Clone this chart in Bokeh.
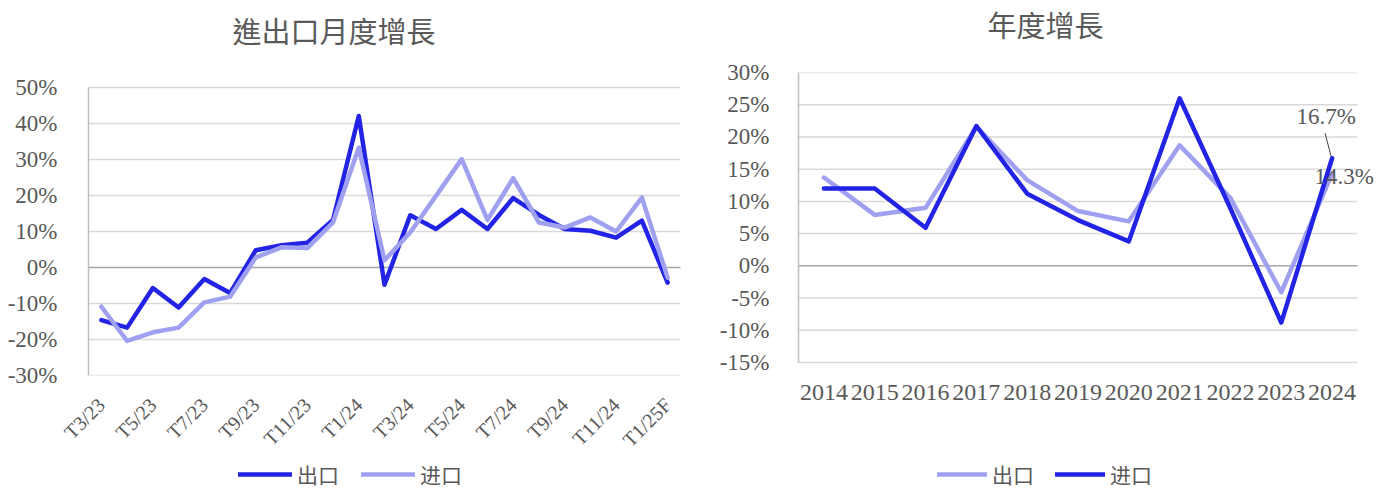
import math
from bokeh.plotting import figure
from bokeh.models import (Range1d, FixedTicker, PrintfTickFormatter, Legend, LegendItem,
                          Label, Title)
from bokeh.layouts import row, column
from bokeh.embed import file_html
from bokeh.resources import INLINE

# ---------------- data ----------------
months = ["T3/23", "T4/23", "T5/23", "T6/23", "T7/23", "T8/23", "T9/23", "T10/23",
          "T11/23", "T12/23", "T1/24", "T2/24", "T3/24", "T4/24", "T5/24", "T6/24",
          "T7/24", "T8/24", "T9/24", "T10/24", "T11/24", "T12/24", "T1/25F"]
monthly_export = [-14.6, -16.7, -5.7, -11.1, -3.2, -7.1, 4.8, 6.2, 6.9, 13.2, 42.1, -4.8,
                  14.5, 10.7, 16.0, 10.7, 19.3, 14.6, 10.7, 10.2, 8.3, 13.0, -4.2]
monthly_import = [-10.9, -20.4, -18.0, -16.7, -9.7, -8.1, 2.8, 5.6, 5.4, 12.5, 33.3, 2.0,
                  9.7, 19.9, 30.1, 13.2, 24.8, 12.5, 11.1, 13.9, 10.0, 19.4, -2.8]
monthly_ticks = [-30, -20, -10, 0, 10, 20, 30, 40, 50]

years = ["2014", "2015", "2016", "2017", "2018", "2019", "2020", "2021", "2022", "2023", "2024"]
annual_export = [13.7, 7.9, 9.0, 21.6, 13.3, 8.5, 6.9, 18.7, 10.5, -4.1, 14.3]
annual_import = [12.0, 12.0, 5.9, 21.7, 11.2, 7.1, 3.8, 26.0, 8.9, -8.8, 16.7]
annual_ticks = [-15, -10, -5, 0, 5, 10, 15, 20, 25, 30]

title_left = "進出口月度增長"
title_right = "年度增長"
lbl_export = "出口"
lbl_import = "进口"

DARK = "#2323E6"
LIGHT = "#A0A0F0"
TXT = "#595959"
GRID = "#D9D9D9"
ZERO = "#A6A6A6"
AXIS = "#BFBFBF"
SERIF = "Liberation Serif"
CJK_TC = "Noto Sans CJK TC"
CJK_SC = "Noto Sans CJK SC"

FRAME_TOP = 71
FRAME_H = 303
BOTTOM = 81
LEG_H = 34
LW = 4.5


def make(n, ticks, px_per_cat, y_lo, y_hi, frame_w, border_l, border_r):
    p = figure(frame_width=frame_w, frame_height=FRAME_H, min_border_left=border_l,
               min_border_right=border_r, min_border_top=FRAME_TOP, min_border_bottom=BOTTOM,
               x_range=Range1d(-0.5 - 2.0 / px_per_cat, -0.5 - 2.0 / px_per_cat + frame_w / px_per_cat),
               y_range=Range1d(y_lo, y_hi), output_backend="svg", toolbar_location=None, tools="")
    p.outline_line_color = None
    p.xgrid.grid_line_color = None
    p.ygrid.grid_line_color = None
    p.yaxis.axis_line_color = None
    p.xaxis.axis_line_color = None
    for ax in (p.xaxis, p.yaxis):
        ax.major_tick_line_color = None
        ax.minor_tick_line_color = None
        ax.major_label_text_color = TXT
        ax.major_label_text_font = SERIF
    p.yaxis.ticker = FixedTicker(ticks=ticks)
    p.yaxis.formatter = PrintfTickFormatter(format="%d%%")
    others = [t for t in ticks if t != 0]
    p.segment(x0=[-0.5] * len(others), x1=[n - 0.5] * len(others), y0=others, y1=others,
              line_color=GRID, line_width=1.5)
    p.segment(x0=[-0.5], x1=[n - 0.5], y0=[0], y1=[0], line_color=ZERO, line_width=1.5)
    p.segment(x0=[-0.5], x1=[-0.5], y0=[ticks[0]], y1=[ticks[-1]], line_color=AXIS, line_width=1.5)
    return p


def add_title(p, text, gap, offset):
    p.add_layout(Title(text=" ", text_font_size="1px", standoff=gap), "above")
    p.add_layout(Title(text=text, align="left", offset=offset, standoff=0, text_font=CJK_TC,
                       text_font_size="29px", text_font_style="normal", text_color=TXT), "above")


def legend_strip(width, entries, loc, glyph_w, spacing, size):
    """A thin borderless figure underneath a chart that only carries the legend."""
    f = figure(frame_width=width, frame_height=LEG_H, min_border=0, x_range=Range1d(0, 1),
               y_range=Range1d(0, 1), x_axis_location=None, y_axis_location=None,
               output_backend="svg", toolbar_location=None, tools="")
    f.outline_line_color = None
    f.grid.visible = False
    items = []
    for label, color in entries:
        # swatch-only renderer, its points lie outside the visible range
        r = f.line([-5, -4], [-5, -4], line_color=color, line_width=LW, line_cap="round")
        items.append(LegendItem(label=label, renderers=[r]))
    f.add_layout(Legend(items=items, orientation="horizontal", location=loc,
                        glyph_width=glyph_w, glyph_height=20, label_height=20, label_standoff=5,
                        spacing=spacing, padding=0, margin=0, label_text_font=CJK_SC,
                        label_text_font_size=size, label_text_color=TXT,
                        background_fill_alpha=0, border_line_color=None),
                 "center")
    return f


# ---------------- left chart ----------------
xm = list(range(len(months)))
px_l = 592 / len(months)
p1 = make(len(months), monthly_ticks, px_l, -30, 50 + 15 * 80 / 288, 610, 86, 4)
p1.yaxis.major_label_text_font_size = "23px"
p1.yaxis.major_label_standoff = 23
p1.xaxis.ticker = FixedTicker(ticks=xm[::2])
p1.xaxis.major_label_overrides = {i: months[i] for i in xm[::2]}
p1.xaxis.major_label_orientation = math.pi / 4
p1.xaxis.major_label_text_font_size = "20px"
p1.xaxis.major_label_standoff = 20

p1.line(xm, monthly_export, line_color=DARK, line_width=LW, line_join="round", line_cap="round")
p1.line(xm, monthly_import, line_color=LIGHT, line_width=LW, line_join="round", line_cap="round")
add_title(p1, title_left, 19, 232 - 86)
leg1 = legend_strip(700, [(lbl_export, DARK), (lbl_import, LIGHT)], (238, 5), 54, 22, "21px")

# ---------------- right chart ----------------
xy = list(range(len(years)))
px_r = 559 / len(years)
p2 = make(len(years), annual_ticks, px_r, -15 - 13 * 45 / 290, 30, 581, 96, 0)
p2.yaxis.major_label_text_font_size = "23px"
p2.yaxis.major_label_standoff = 21
p2.xaxis.ticker = FixedTicker(ticks=xy)
p2.xaxis.major_label_overrides = {i: years[i] for i in xy}
p2.xaxis.major_label_text_font_size = "24px"
p2.xaxis.major_label_standoff = 3

p2.line(xy, annual_export, line_color=LIGHT, line_width=LW, line_join="round", line_cap="round")
p2.line(xy, annual_import, line_color=DARK, line_width=LW, line_join="round", line_cap="round")
add_title(p2, title_right, 25, 987 - 796)
leg2 = legend_strip(677, [(lbl_export, LIGHT), (lbl_import, DARK)], (237, 5), 50, 21, "21px")

# data labels for 2024
last = len(years) - 1
py = 45.0 / 290.0
p2.add_layout(Label(x=last, y=annual_import[last], text=f"{annual_import[last]:.1f}%",
                    x_offset=-6, y_offset=42, text_align="center", text_baseline="middle",
                    text_font=SERIF, text_font_size="23px", text_color=TXT))
p2.segment(x0=[last - 1 / px_r], y0=[annual_import[last] + 2 * py],
           x1=[last - 7 / px_r], y1=[annual_import[last] + 25 * py],
           line_color="#404040", line_width=1)
p2.add_layout(Label(x=last, y=annual_export[last], text=f"{annual_export[last]:.1f}%",
                    x_offset=12, y_offset=-3, text_align="center", text_baseline="middle",
                    text_font=SERIF, text_font_size="23px", text_color=TXT))

layout = column(row(p1, p2), row(leg1, leg2))
open("out.html", "w").write(file_html(layout, INLINE))
